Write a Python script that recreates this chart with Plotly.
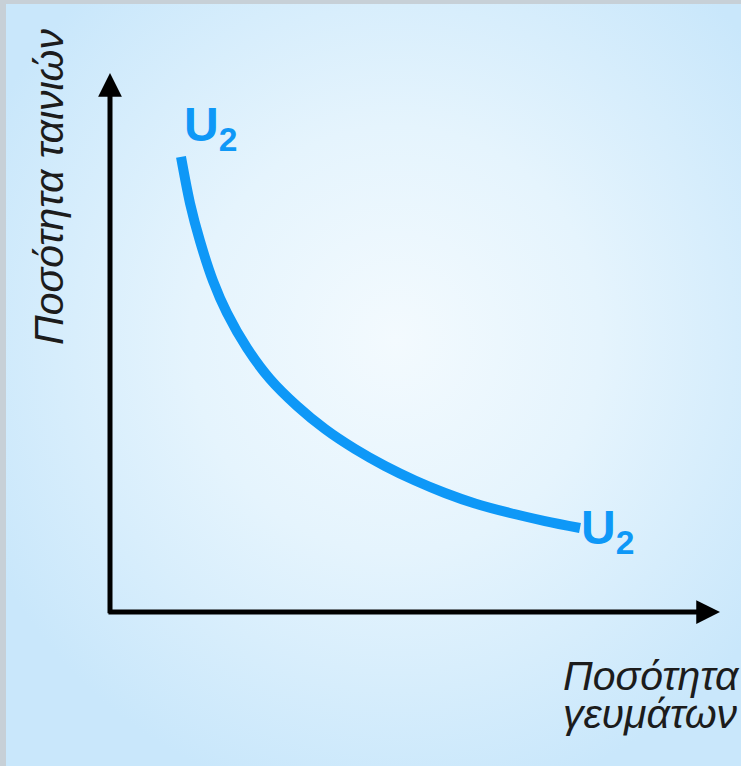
import base64
import plotly.graph_objects as go

# ---- data (indifference curve U2) ----
meals = [1.164, 1.311, 1.475, 1.689, 1.918, 2.246, 2.623, 3.066, 3.525, 4.016,
         4.508, 5.000, 5.492, 5.984, 6.557, 7.131, 7.705]
movies = [8.442, 7.588, 6.883, 6.141, 5.547, 4.898, 4.323, 3.822, 3.395, 3.024,
          2.709, 2.440, 2.208, 2.013, 1.837, 1.688, 1.558]
axis_max = [10, 10]
curve_label = "U"
curve_sub = "2"
y_title = "Ποσότητα ταινιών"
x_title_lines = ["Ποσότητα", "γευμάτων"]

W, H = 741, 766
BLUE = "#0E98F7"
TEXT = "#1c1c1c"
FONT = "Liberation Sans, Arial"

svg = f'''<svg xmlns="http://www.w3.org/2000/svg" width="735" height="762" viewBox="0 0 735 762" preserveAspectRatio="none">
<defs><radialGradient id="g" cx="53%" cy="44%" r="62%">
<stop offset="0%" stop-color="#F3FAFE"/>
<stop offset="45%" stop-color="#E5F4FD"/>
<stop offset="100%" stop-color="#C9E7FB"/>
</radialGradient></defs>
<rect width="735" height="762" fill="url(#g)"/></svg>'''
src = "data:image/svg+xml;base64," + base64.b64encode(svg.encode()).decode()

fig = go.Figure()
fig.add_trace(go.Scatter(x=meals, y=movies, mode="lines",
                         line=dict(color=BLUE, width=10, shape="spline", smoothing=0.9),
                         hoverinfo="skip", showlegend=False))

ann = []
# axes with arrows
ann.append(dict(x=0, y=axis_max[1], ax=0, ay=-0.05, xref="x", yref="y", axref="x", ayref="y",
                text="", showarrow=True, arrowhead=2, arrowsize=0.95, arrowwidth=5, arrowcolor="black"))
ann.append(dict(x=axis_max[0], y=0, ax=-0.05, ay=0, xref="x", yref="y", axref="x", ayref="y",
                text="", showarrow=True, arrowhead=2, arrowsize=0.95, arrowwidth=5, arrowcolor="black"))
# curve labels
lab = f"<b>{curve_label}<sub>{curve_sub}</sub></b>"
ann.append(dict(x=meals[0] + 0.01, y=movies[0] + 0.54, xref="x", yref="y", text=lab, showarrow=False,
                xanchor="left", yanchor="middle",
                font=dict(family=FONT, size=48, color=BLUE)))
ann.append(dict(x=meals[-1] - 0.01, y=movies[-1] - 0.06, xref="x", yref="y", text=lab, showarrow=False,
                xanchor="left", yanchor="middle",
                font=dict(family=FONT, size=48, color=BLUE)))
# axis titles
ann.append(dict(x=49 / W, y=1 - 187 / H, xref="paper", yref="paper", text=y_title, showarrow=False,
                textangle=-90, xanchor="center", yanchor="middle",
                font=dict(family=FONT, size=41, color=TEXT, style="italic")))
ann.append(dict(x=561 / W, y=1 - 676 / H, xref="paper", yref="paper", text=x_title_lines[0], showarrow=False,
                xanchor="left", yanchor="middle",
                font=dict(family=FONT, size=41, color=TEXT, style="italic")))
ann.append(dict(x=561 / W, y=1 - 714 / H, xref="paper", yref="paper", text=x_title_lines[1], showarrow=False,
                xanchor="left", yanchor="middle",
                font=dict(family=FONT, size=41, color=TEXT, style="italic")))

fig.update_layout(
    width=W, height=H, margin=dict(l=0, r=0, t=0, b=0),
    paper_bgcolor="#C7D0D7", plot_bgcolor="rgba(0,0,0,0)",
    xaxis=dict(domain=[110 / W, 720 / W], range=[0, axis_max[0]], visible=False, fixedrange=True),
    yaxis=dict(domain=[(H - 612) / H, (H - 73) / H], range=[0, axis_max[1]], visible=False, fixedrange=True),
    images=[dict(source=src, xref="paper", yref="paper", x=6 / W, y=1 - 4 / H,
                 sizex=1 - 6 / W, sizey=1 - 4 / H, xanchor="left", yanchor="top",
                 sizing="stretch", layer="below")],
    annotations=ann, showlegend=False,
)
fig.write_html("out.html", config={"displayModeBar": False},
               post_script="document.body.style.margin='0';document.body.style.overflow='hidden';")
